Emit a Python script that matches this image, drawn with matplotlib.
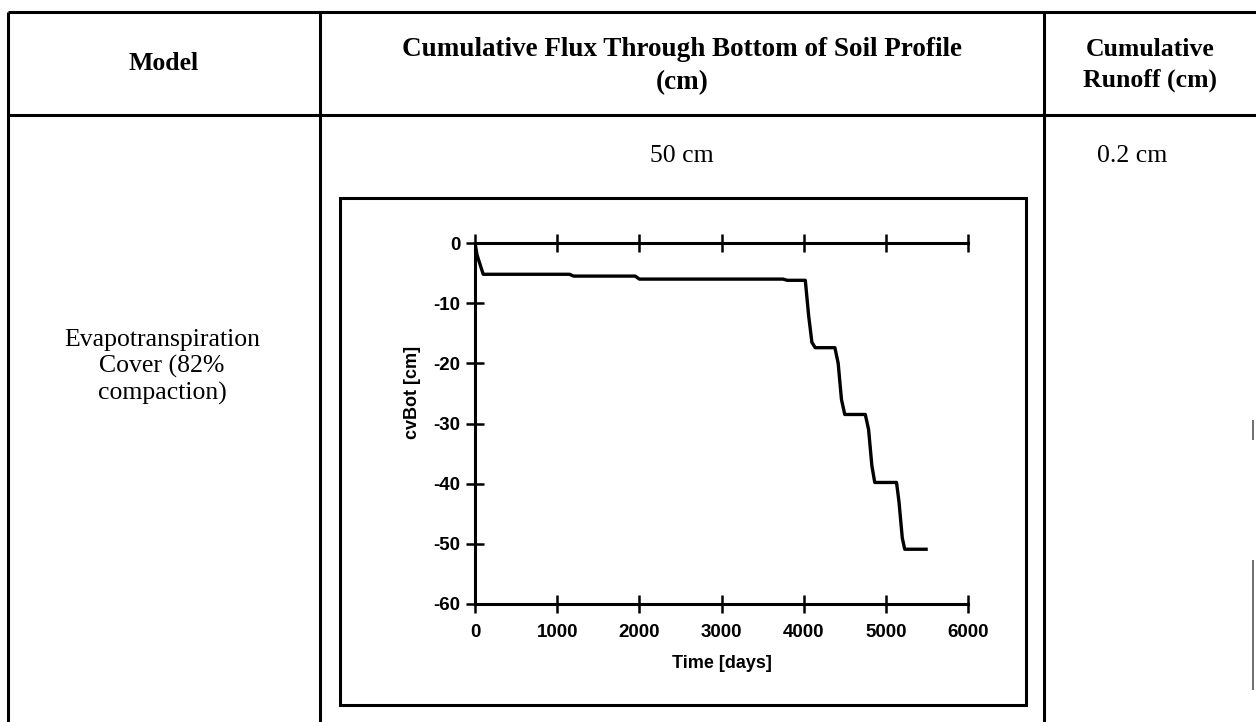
import matplotlib
matplotlib.use("Agg")
import matplotlib.pyplot as plt
from matplotlib.lines import Line2D
from matplotlib.patches import Rectangle

# ---- data ----
time_days = [0, 25, 100, 1150, 1200, 1950, 2000, 3750, 3800, 4020, 4060, 4100, 4140,
             4380, 4420, 4460, 4500, 4750, 4790, 4830, 4865, 5130, 5160, 5200, 5230, 5490]
cvbot_cm = [0, -2.0, -5.2, -5.2, -5.5, -5.5, -6.0, -6.0, -6.2, -6.2, -12.0, -16.5, -17.4,
            -17.4, -20.0, -26.0, -28.5, -28.5, -31.0, -37.0, -39.8, -39.8, -43.0, -49.0, -50.9, -50.9]
x_ticks = [0, 1000, 2000, 3000, 4000, 5000, 6000]
y_ticks = [0, -10, -20, -30, -40, -50, -60]

header_cols = ["Model", "Cumulative Flux Through Bottom of Soil Profile\n(cm)", "Cumulative\nRunoff (cm)"]
row_model = "Evapotranspiration\nCover (82%\ncompaction)"
row_flux = "50 cm"
row_runoff = "0.2 cm"

W, H = 1256, 722
fig = plt.figure(figsize=(W / 100, H / 100), dpi=100)
fig.patch.set_facecolor("white")

def fx(x):
    return x / W

def fy(y):
    return 1 - y / H

def hline(y, x0, x1, lw=2.2, color="black"):
    fig.add_artist(Line2D([fx(x0), fx(x1)], [fy(y), fy(y)], transform=fig.transFigure,
                          color=color, lw=lw, solid_capstyle="butt"))

def vline(x, y0, y1, lw=2.2, color="black"):
    fig.add_artist(Line2D([fx(x), fx(x)], [fy(y0), fy(y1)], transform=fig.transFigure,
                          color=color, lw=lw, solid_capstyle="butt"))

# table grid
hline(12, 8, W)
hline(115, 8, W)
vline(8, 12, H)
vline(320, 12, H)
vline(1044, 12, H)
vline(1253, 420, 440, lw=1.2, color="#555555")
vline(1253, 560, 690, lw=1.2, color="#555555")

serif = ["Liberation Serif", "DejaVu Serif"]
FS = 18.5
fig.text(fx(164), fy(64), header_cols[0], family=serif, weight="bold", fontsize=FS,
         ha="center", va="center")
fig.text(fx(682), fy(66), header_cols[1], family=serif, weight="bold", fontsize=19.5,
         ha="center", va="center", linespacing=1.4)
fig.text(fx(1150), fy(65), header_cols[2], family=serif, weight="bold", fontsize=FS,
         ha="center", va="center", linespacing=1.45)

fig.text(fx(682), fy(156), row_flux, family=serif, fontsize=FS, ha="center", va="center")
fig.text(fx(1132), fy(156), row_runoff, family=serif, fontsize=FS, ha="center", va="center")
fig.text(fx(162), fy(367), row_model, family=serif, fontsize=FS, ha="center", va="center",
         linespacing=1.22)

# chart frame
fig.add_artist(Rectangle((fx(340), fy(705)), fx(1026) - fx(340), fy(198) - fy(705),
                         transform=fig.transFigure, fill=False, lw=2.2, ec="black"))

# axes
ax_l, ax_r, ax_t, ax_b = 475, 968, 243, 604
ax = fig.add_axes([fx(ax_l), fy(ax_b), fx(ax_r) - fx(ax_l), fy(ax_t) - fy(ax_b)])
ax.plot(time_days, cvbot_cm, color="black", lw=2.4)
ax.set_xlim(0, 6000)
ax.set_ylim(-60, 0)
ax.set_xticks(x_ticks)
ax.set_yticks(y_ticks)
ax.set_xticklabels([str(v) for v in x_ticks])
ax.set_yticklabels([str(v) for v in y_ticks])
ax.spines["right"].set_visible(False)
for s in ["left", "top", "bottom"]:
    ax.spines[s].set_linewidth(2.2)
ax.tick_params(axis="x", which="both", direction="inout", length=13, width=1.8,
               top=True, bottom=True, labeltop=False, pad=8)
ax.tick_params(axis="y", which="both", direction="inout", length=13, width=1.8,
               left=True, right=False, pad=4)
sans = ["Liberation Sans Narrow", "Liberation Sans", "DejaVu Sans"]
for lab in ax.get_xticklabels() + ax.get_yticklabels():
    lab.set_family(sans)
    lab.set_fontweight("bold")
    lab.set_fontsize(13.5)
ax.set_xlabel("Time [days]", family=sans, fontsize=13, fontweight="bold", labelpad=10)
ax.set_ylabel("cvBot [cm]", family=sans, fontsize=13, fontweight="bold", labelpad=6)
ax.yaxis.set_label_coords(-0.11, 0.585)
ax.patch.set_alpha(0)

fig.savefig("out.png", dpi=100, facecolor="white")
